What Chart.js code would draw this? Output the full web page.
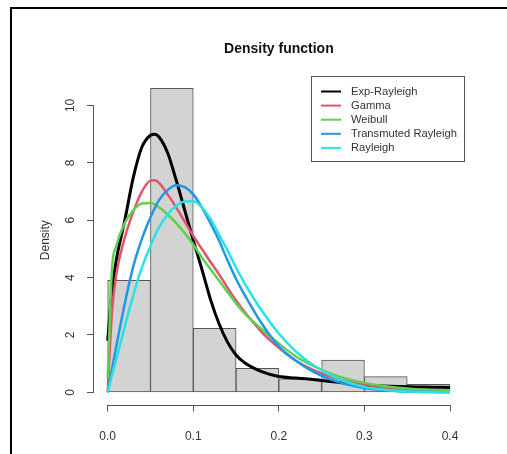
<!DOCTYPE html>
<html>
<head>
<meta charset="utf-8">
<script src="https://cdn.jsdelivr.net/npm/chart.js@4/dist/chart.umd.min.js"></script>
<style>
body{margin:0;background:#fff;}
#wrap{position:relative;width:507px;height:454px;overflow:hidden;}
#myChart{position:absolute;left:0;top:0;}
#frame{position:absolute;left:10px;top:7px;width:530px;height:480px;border:2px solid #000;box-sizing:border-box;}
</style>
</head>
<body>
<div id="wrap"><canvas id="myChart" width="507" height="454"></canvas><div id="frame"></div></div>
<script>
// histogram (bin width 0.05)
let binMids=[0.025,0.075,0.125,0.175,0.225,0.275,0.325,0.375]
let binHeights=[3.9,10.6,2.23,0.84,0.47,1.12,0.55,0.28]

let xTicks=[0,0.1,0.2,0.3,0.4]
let yTicks=[0,2,4,6,8,10]

// fitted densities
let xGrid=[0,0.005,0.01,0.02,0.03,0.04,0.05,0.055,0.06,0.07,0.08,0.09,0.1,0.11,0.12,0.13,0.14,0.15,0.16,0.18,0.2,0.22,0.24,0.26,0.28,0.3,0.32,0.34,0.36,0.38,0.4]
let expRayleigh=[1.8,3.5,4.6,6.0,7.5,8.55,8.96,9.0,8.9,8.35,7.4,6.35,5.3,4.3,3.25,2.4,1.75,1.3,1.03,0.72,0.55,0.5,0.45,0.38,0.31,0.25,0.22,0.2,0.19,0.18,0.17]
let gamma=[0,2.8,4.1,5.4,6.3,7.0,7.38,7.39,7.3,6.9,6.45,5.95,5.45,5.0,4.55,4.12,3.65,3.2,2.8,2.1,1.55,1.1,0.78,0.55,0.38,0.26,0.18,0.12,0.08,0.05,0.03]
let weibull=[0.5,4.3,5.1,5.9,6.35,6.58,6.6,6.55,6.45,6.2,5.9,5.55,5.15,4.7,4.3,3.9,3.5,3.1,2.75,2.2,1.7,1.25,0.92,0.66,0.47,0.33,0.23,0.16,0.11,0.08,0.06]
let transRayleigh=[0,0.8,1.6,3.1,4.4,5.35,6.1,6.42,6.7,7.05,7.22,7.15,6.9,6.45,5.9,5.3,4.6,3.95,3.4,2.4,1.6,1.1,0.72,0.45,0.27,0.15,0.08,0.04,0.02,0.01,0]
let rayleigh=[0,0.6,1.15,2.3,3.4,4.35,5.1,5.45,5.75,6.2,6.5,6.65,6.66,6.45,6.05,5.5,4.95,4.35,3.8,2.85,2.05,1.42,0.95,0.6,0.35,0.19,0.1,0.05,0.02,0.01,0]

let names=["Exp-Rayleigh","Gamma","Weibull","Transmuted Rayleigh","Rayleigh"]
let colors=["#000000","#DF536B","#61D04F","#2297E6","#28E2E5"]
let series=[expRayleigh,gamma,weibull,transRayleigh,rayleigh]

let fam='"Liberation Sans", Arial, sans-serif'

let curves=series.map((s,k)=>({
  type:"line",
  label:names[k],
  data:xGrid.map((x,i)=>({x:x,y:s[i]})),
  borderColor:colors[k],
  borderWidth:k==0?3:2.5,
  pointRadius:0,
  fill:false,
  cubicInterpolationMode:"monotone",
  order:5-k
}))

// title centred over the plot region
let plotTitle={
  id:"plotTitle",
  afterDraw(chart){
    let c=chart.ctx, a=chart.chartArea
    c.save()
    c.font="bold 14px "+fam
    c.fillStyle="#111"
    c.textAlign="center"
    c.textBaseline="middle"
    c.fillText("Density function",(a.left+a.right)/2,49)
    c.restore()
  }
}

// R-like axis lines (only between first and last tick)
let rAxes={
  id:"rAxes",
  afterDraw(chart){
    let c=chart.ctx, a=chart.chartArea, x=chart.scales.x, y=chart.scales.y
    let by=Math.round(a.bottom)+0.5, lx=Math.round(a.left)-0.5
    c.save()
    c.strokeStyle="#555"
    c.lineWidth=1
    c.beginPath()
    c.moveTo(x.getPixelForValue(xTicks[0]),by)
    c.lineTo(x.getPixelForValue(xTicks[xTicks.length-1]),by)
    c.moveTo(lx,y.getPixelForValue(yTicks[0]))
    c.lineTo(lx,y.getPixelForValue(yTicks[yTicks.length-1]))
    c.stroke()
    c.restore()
  }
}

// boxed legend, top right of the plot
let legendBox={
  id:"legendBox",
  afterDraw(chart){
    let c=chart.ctx, a=chart.chartArea
    let w=153, h=85
    let x0=Math.round(a.right-w), y0=Math.round(a.top)
    let ds=chart.data.datasets.filter(d=>d.type=="line")
    c.save()
    c.fillStyle="#fff"
    c.fillRect(x0,y0,w,h)
    c.strokeStyle="#555"
    c.lineWidth=1
    c.strokeRect(x0+0.5,y0+0.5,w,h)
    c.font="11.2px "+fam
    c.textBaseline="middle"
    ds.forEach((d,i)=>{
      let yy=y0+15.5+i*14.1
      c.strokeStyle=d.borderColor
      c.lineWidth=2
      c.beginPath()
      c.moveTo(x0+10,yy)
      c.lineTo(x0+30,yy)
      c.stroke()
      c.fillStyle="#333"
      c.fillText(d.label,x0+40,yy)
    })
    c.restore()
  }
}

let ctx=document.getElementById("myChart").getContext("2d")
let myChart=new Chart(ctx,{
  type:"bar",
  data:{
    datasets:[{
      type:"bar",
      label:"hist",
      data:binMids.map((m,i)=>({x:m,y:binHeights[i]})),
      backgroundColor:"#d3d3d3",
      borderColor:"#555",
      borderWidth:1,
      borderSkipped:false,
      barPercentage:1,
      categoryPercentage:1,
      order:10
    }].concat(curves)
  },
  options:{
    responsive:false,
    animation:false,
    layout:{padding:{left:0,top:75.9,right:43.3,bottom:0}},
    plugins:{
      legend:{display:false},
      tooltip:{enabled:false},
      title:{display:false}
    },
    scales:{
      x:{
        type:"linear",min:-0.016,max:0.416,offset:false,
        afterBuildTicks:s=>{s.ticks=xTicks.map(v=>({value:v}))},
        afterFit:s=>{s.height=49.5},
        ticks:{callback:v=>v.toFixed(1),color:"#333",font:{family:fam,size:12},padding:18,maxRotation:0,autoSkip:false},
        grid:{drawOnChartArea:false,offset:false,tickLength:7,color:"#555"},
        border:{display:false}
      },
      y:{
        type:"linear",min:-0.424,max:11.03,
        afterBuildTicks:s=>{s.ticks=yTicks.map(v=>({value:v}))},
        afterFit:s=>{s.width=94},
        ticks:{color:"#333",font:{family:fam,size:12},minRotation:90,maxRotation:90,crossAlign:"center",padding:10},
        grid:{drawOnChartArea:false,tickLength:7,color:"#555"},
        border:{display:false},
        title:{display:true,text:"Density",color:"#333",font:{family:fam,size:12},padding:{top:38.8}}
      }
    }
  },
  plugins:[rAxes,legendBox,plotTitle]
})
</script>
</body>
</html>
